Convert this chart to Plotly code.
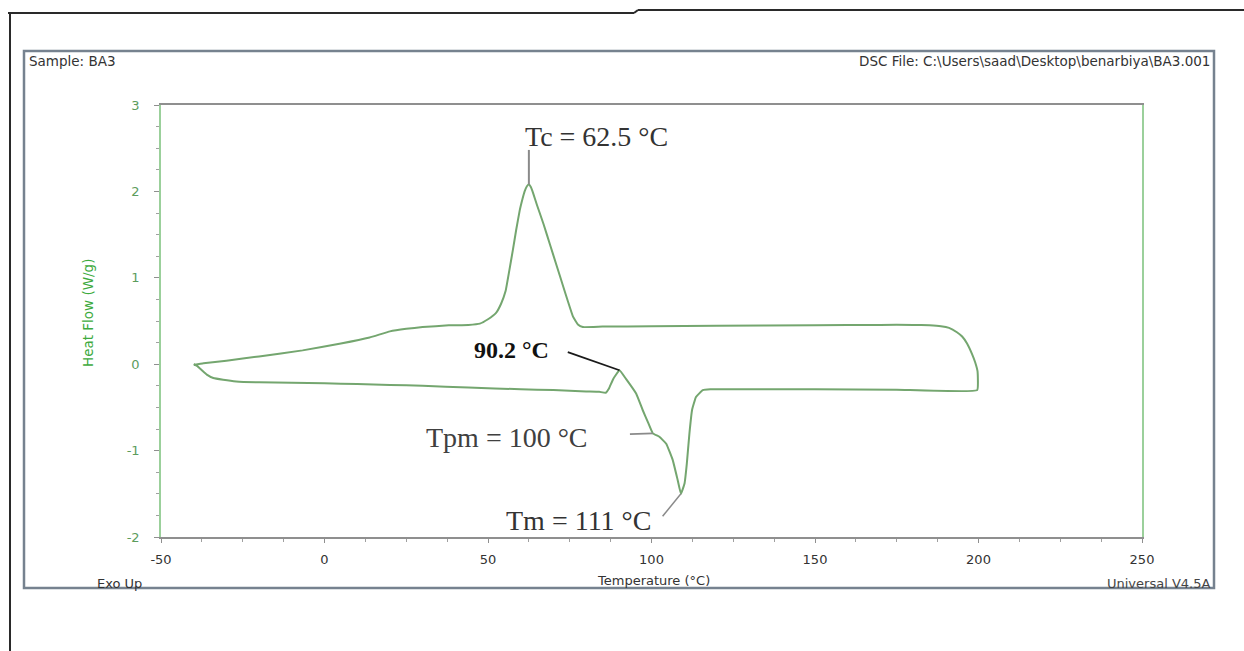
import plotly.graph_objects as go

# Heating scan (lower curve), temperature ascending, heat flow in W/g
heat_T = [-40.0, -39.0, -37.5, -36.0, -34.0, -31.0, -27.0, -20.0, -10.0, 0.0,
          10.0, 20.0, 30.0, 44.0, 60.0, 70.0, 80.0, 84.0, 86.0, 87.0, 88.3, 90.2,
          92.2, 95.3, 97.3, 98.9, 100.4, 102.4, 104.5, 106.5, 108.0, 109.0,
          110.1, 110.8, 111.6, 112.4, 113.6, 115.7, 118.0, 130.0, 150.0, 175.0, 199.6]
heat_Q = [0.00, -0.02, -0.07, -0.12, -0.16, -0.18, -0.20, -0.21, -0.215, -0.22,
          -0.23, -0.24, -0.25, -0.27, -0.29, -0.30, -0.315, -0.32, -0.33, -0.28, -0.17, -0.07,
          -0.17, -0.34, -0.53, -0.67, -0.80, -0.84, -0.92, -1.11, -1.34, -1.50,
          -1.38, -1.15, -0.80, -0.53, -0.38, -0.30, -0.29, -0.29, -0.29, -0.295, -0.30]

# Cooling scan (upper curve), temperature descending from 200 °C
cool_T = [199.7, 199.0, 198.0, 196.5, 195.0, 193.4, 191.0, 188.5, 185.0, 180.0,
          170.0, 150.0, 120.0, 100.0, 85.0, 79.0, 77.5, 76.0, 74.5, 73.0, 71.0,
          69.0, 67.0, 65.0, 63.8, 63.1, 62.5, 61.9, 61.2, 60.6, 59.7, 58.6, 57.6,
          56.5, 55.4, 54.0, 52.4, 50.0, 47.5, 44.0, 38.0, 30.0, 25.0, 20.0, 13.8,
          5.0, -6.7, -20.0, -30.0, -37.0, -40.0]
cool_Q = [-0.08, 0.02, 0.12, 0.24, 0.32, 0.37, 0.42, 0.44, 0.45, 0.455,
          0.455, 0.45, 0.445, 0.44, 0.435, 0.43, 0.46, 0.55, 0.72, 0.90, 1.14,
          1.38, 1.62, 1.84, 1.98, 2.05, 2.08, 2.06, 2.00, 1.92, 1.78, 1.55, 1.32,
          1.08, 0.85, 0.70, 0.59, 0.52, 0.47, 0.455, 0.45, 0.43, 0.41, 0.38, 0.31,
          0.24, 0.16, 0.09, 0.04, 0.01, -0.01]

x_ticks = [-50, 0, 50, 100, 150, 200, 250]
x_tick_labels = ["-50", "0", "50", "100", "150", "200", "250"]
y_ticks = [-2, -1, 0, 1, 2, 3]
y_tick_labels = ["-2", "-1", "0", "1", "2", "3"]

# Characteristic temperatures and the heat flow at each
Tc, Tc_Q = 62.5, 2.08
Tonset, Tonset_Q = 90.2, -0.07
Tpm, Tpm_Q = 100.4, -0.80
Tm, Tm_Q = 109.0, -1.50

W, H = 1244, 651
L, R, T, B = 161, 1142, 105, 537


def paper(px, py):
    """Window pixel -> paper coordinates."""
    return (px - L) / (R - L), (B - py) / (B - T)


fig = go.Figure()
fig.add_trace(go.Scatter(
    x=heat_T + cool_T, y=heat_Q + cool_Q, mode="lines",
    line=dict(color="#74a66f", width=2, shape="spline", smoothing=0.3),
    hoverinfo="skip", showlegend=False))

shapes = []

def pline(p0, p1, color, width):
    x0, y0 = paper(*p0)
    x1, y1 = paper(*p1)
    shapes.append(dict(type="line", xref="paper", yref="paper",
                       x0=x0, y0=y0, x1=x1, y1=y1,
                       line=dict(color=color, width=width)))

# page frame lines
pline((8, 13), (634, 13), "#2a2a2a", 2)
pline((634, 13), (638, 10), "#2a2a2a", 2)
pline((638, 10), (1244, 10), "#2a2a2a", 2)
pline((10, 13), (10, 651), "#2a2a2a", 2)

# instrument panel border
x0, y0 = paper(24, 588)
x1, y1 = paper(1214, 51)
shapes.append(dict(type="rect", xref="paper", yref="paper", x0=x0, y0=y0, x1=x1, y1=y1,
                   line=dict(color="#76828f", width=2.5), fillcolor="rgba(0,0,0,0)"))

# leader lines to the characteristic points
def dline(a, b, color, width):
    shapes.append(dict(type="line", xref="x", yref="y", x0=a[0], y0=a[1], x1=b[0], y1=b[1],
                       line=dict(color=color, width=width)))

dline((Tc, 2.48), (Tc, Tc_Q), "#8a8a8a", 2)
dline((74.4, 0.14), (Tonset, Tonset_Q), "#1a1a1a", 1.8)
dline((93.4, -0.81), (Tpm, Tpm_Q), "#8a8a8a", 1.8)
dline((103.4, -1.76), (Tm, Tm_Q), "#8a8a8a", 1.5)

annotations = []

def ptext(px, py, text, size, color, xanchor="left", yanchor="middle", family="DejaVu Sans", angle=0):
    x, y = paper(px, py)
    annotations.append(dict(x=x, y=y, xref="paper", yref="paper", text=text, showarrow=False,
                            xanchor=xanchor, yanchor=yanchor, textangle=angle,
                            font=dict(size=size, color=color, family=family)))

ptext(27, 61, "Sample: BA3", 13.5, "#333333")
ptext(1212, 61, "DSC File: C:\\Users\\saad\\Desktop\\benarbiya\\BA3.001", 13.5, "#333333", xanchor="right")
ptext(95, 583, "Exo Up", 13, "#333333")
ptext(653, 580, "Temperature (°C)", 13, "#333333", xanchor="center")
ptext(1212, 583, "Universal V4.5A", 13, "#444444", xanchor="right")
ptext(88, 313, "Heat Flow (W/g)", 13.5, "#3daa3d", xanchor="center", angle=-90)

serif = "Liberation Serif"
ptext(596, 136, "Tc = 62.5 °C", 28, "#333333", xanchor="center", family=serif)
ptext(511, 350, "<b>90.2 °C</b>", 24, "#111111", xanchor="center", family=serif)
ptext(507, 437, "Tpm = 100 °C", 28, "#404040", xanchor="center", family=serif)
ptext(578, 520, "Tm = 111 °C", 28, "#333333", xanchor="center", family=serif)

fig.update_layout(
    width=W, height=H,
    margin=dict(l=L, r=W - R, t=T, b=H - B),
    paper_bgcolor="white", plot_bgcolor="white",
    shapes=shapes, annotations=annotations,
    xaxis=dict(range=[-50, 250], tickvals=x_ticks, ticktext=x_tick_labels,
               showgrid=False, zeroline=False,
               showline=True, linecolor="#8f8f8f", linewidth=1.5, mirror=True,
               ticks="outside", ticklen=4, tickcolor="#8f8f8f", ticklabelstandoff=6,
               minor=dict(dtick=12.5, ticks="outside", ticklen=3, tickcolor="#a0a0a0"),
               tickfont=dict(family="DejaVu Sans", size=13, color="#333333")),
    yaxis=dict(range=[-2, 3], tickvals=y_ticks, ticktext=y_tick_labels,
               showgrid=False, zeroline=False,
               showline=True, linecolor="#9bd09b", linewidth=1.5, mirror=True,
               ticks="outside", ticklen=5, tickcolor="#8f8f8f", ticklabelstandoff=12,
               minor=dict(dtick=0.25, ticks="outside", ticklen=3, tickcolor="#a0a0a0"),
               tickfont=dict(family="DejaVu Sans", size=13, color="#5c9c5c")),
)

fig.write_html("out.html")
